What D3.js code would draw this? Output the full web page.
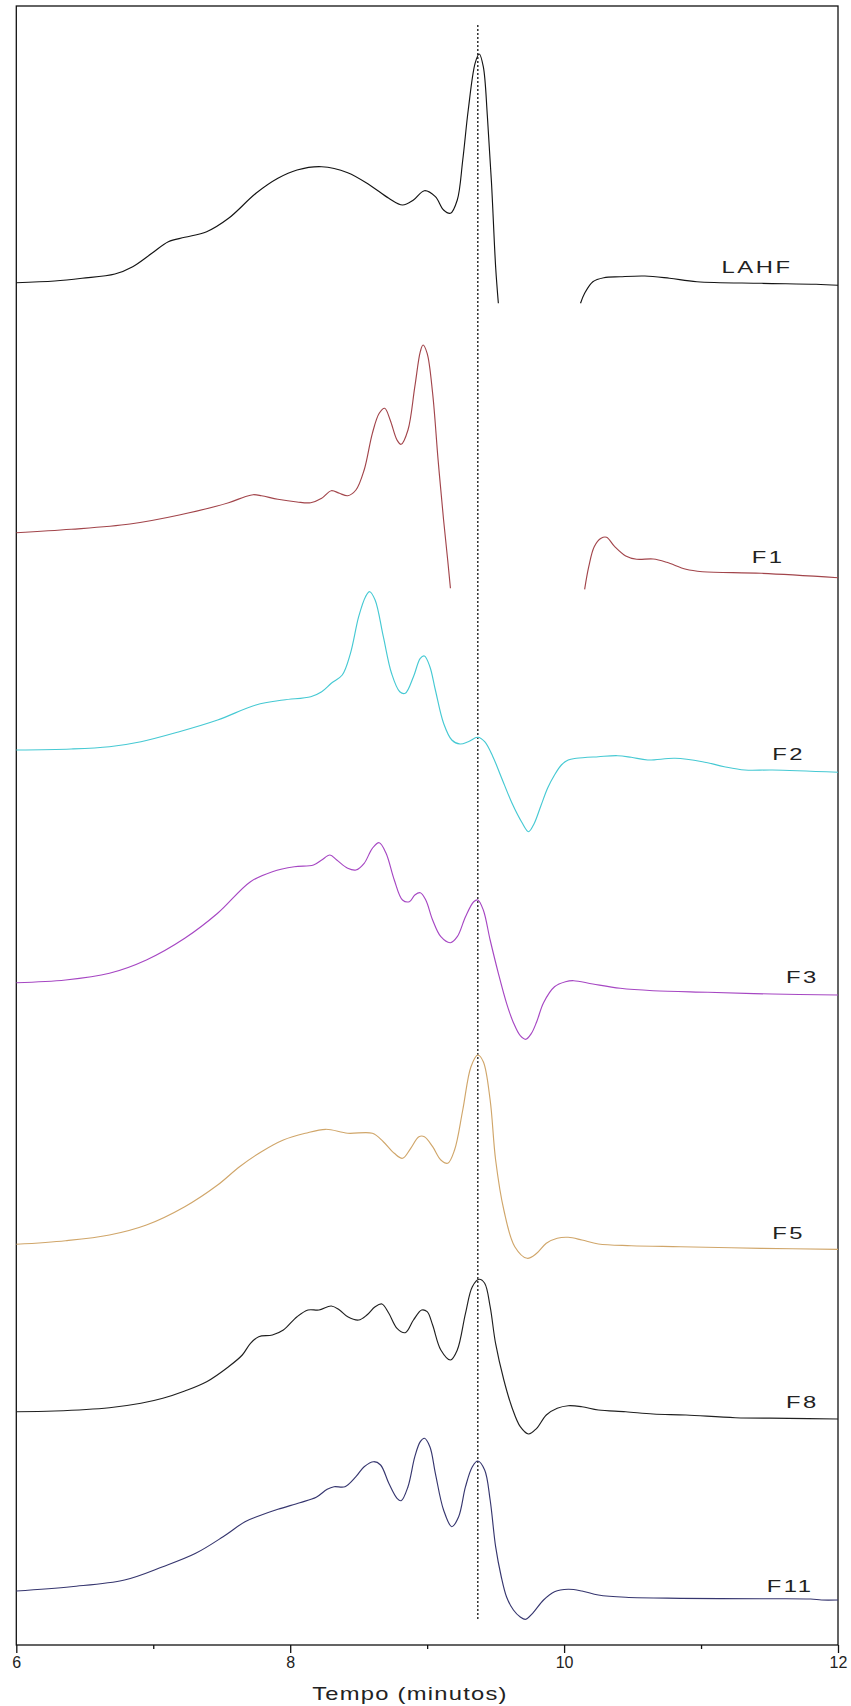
<!DOCTYPE html>
<html>
<head>
<meta charset="utf-8">
<script src="https://cdn.jsdelivr.net/npm/d3@7"></script>
<style>
  html, body { margin: 0; padding: 0; background: #fff; }
  svg { display: block; }
  text { font-family: "Liberation Sans", Arial, sans-serif; fill: #222; }
</style>
</head>
<body>
<svg id="chart" width="851" height="1706"></svg>
<script>
// Chromatogram traces: [time (min), detector response (a.u.) relative to each trace's start]
// null marks a stretch where the recorder trace is interrupted.
const seriesNames = ["LAHF", "F1", "F2", "F3", "F5", "F8", "F11"];
const seriesColors = ["#141414", "#a2454b", "#46c9d3", "#a647c3", "#d0a66a", "#202020", "#36366f"];
const baselineOffsets = [136.23, 111.23, 89.5, 66.23, 40.07, 23.33, 5.4];

const LAHF = [
  [6.00, 0], [6.28, 0.17], [6.48, 0.44], [6.72, 0.87], [6.85, 1.60], [6.99, 2.94],
  [7.11, 4.10], [7.23, 4.54], [7.39, 5.10], [7.55, 6.44], [7.75, 8.94], [7.91, 10.44],
  [8.05, 11.27], [8.23, 11.60], [8.42, 11.00], [8.58, 9.77], [8.72, 8.44], [8.82, 7.77],
  [8.90, 8.27], [8.98, 9.20], [9.06, 8.60], [9.12, 7.27], [9.17, 6.94], [9.22, 8.27],
  [9.26, 12.27], [9.30, 17.27], [9.35, 21.94], [9.38, 22.87], [9.41, 21.60], [9.44, 16.60],
  [9.47, 9.94], [9.50, 1.60], [9.52, -2.06], [9.80, null],
  [10.12, -2.06], [10.15, -1.06], [10.21, 0.10], [10.29, 0.50], [10.41, 0.60], [10.59, 0.67],
  [10.77, 0.44], [10.97, 0.10], [11.44, -0.06], [11.84, -0.16], [12.00, -0.26]
];

const F1 = [
  [6.00, 0], [6.40, 0.34], [6.83, 0.87], [7.19, 1.77], [7.55, 3.00], [7.67, 3.60],
  [7.73, 3.80], [7.79, 3.70], [7.91, 3.34], [8.05, 3.07], [8.15, 3.00], [8.23, 3.44],
  [8.30, 4.20], [8.36, 3.94], [8.42, 3.70], [8.48, 4.27], [8.54, 6.27], [8.60, 9.94],
  [8.65, 11.94], [8.69, 12.44], [8.73, 11.27], [8.78, 9.27], [8.81, 8.84], [8.86, 10.27],
  [8.91, 14.60], [8.95, 18.10], [8.97, 18.77], [9.00, 17.94], [9.04, 13.94], [9.08, 7.27],
  [9.12, 1.27], [9.15, -2.73], [9.17, -5.56], [9.60, null],
  [10.15, -5.66], [10.18, -3.40], [10.22, -1.40], [10.27, -0.56], [10.31, -0.46], [10.37, -1.40],
  [10.45, -2.33], [10.53, -2.66], [10.65, -2.63], [10.75, -2.96], [10.89, -3.66], [11.01, -3.90],
  [11.44, -4.06], [12.00, -4.50]
];

const F2 = [
  [6.00, 0], [6.40, 0.10], [6.68, 0.33], [6.91, 0.83], [7.19, 1.83], [7.47, 3.00],
  [7.75, 4.50], [7.95, 5.00], [8.15, 5.33], [8.23, 5.83], [8.30, 6.67], [8.38, 7.50],
  [8.44, 9.67], [8.50, 13.33], [8.55, 15.33], [8.58, 15.83], [8.62, 15.00], [8.68, 11.33],
  [8.74, 7.67], [8.80, 5.83], [8.84, 5.67], [8.90, 7.33], [8.95, 9.17], [8.98, 9.40],
  [9.02, 8.33], [9.06, 6.00], [9.12, 2.67], [9.18, 1.00], [9.24, 0.60], [9.30, 0.83],
  [9.37, 1.27], [9.42, 0.83], [9.48, -0.67], [9.54, -2.67], [9.62, -5.33], [9.69, -7.20],
  [9.74, -8.17], [9.78, -7.40], [9.83, -5.60], [9.88, -3.80], [9.93, -2.50], [9.98, -1.50],
  [10.03, -1.00], [10.09, -0.83], [10.25, -0.67], [10.39, -0.57], [10.49, -0.73], [10.61, -1.00],
  [10.81, -0.83], [11.01, -1.17], [11.17, -1.67], [11.32, -2.00], [11.52, -2.00], [12.00, -2.23]
];

const F3 = [
  [6.00, 0], [6.36, 0.27], [6.68, 0.94], [6.95, 2.27], [7.23, 4.44], [7.47, 6.94],
  [7.71, 10.10], [7.87, 11.10], [8.03, 11.60], [8.17, 11.77], [8.23, 12.27], [8.29, 12.77],
  [8.34, 12.27], [8.42, 11.44], [8.48, 11.27], [8.54, 11.94], [8.60, 13.44], [8.65, 14.00],
  [8.70, 12.94], [8.76, 10.27], [8.82, 8.27], [8.87, 8.10], [8.91, 8.77], [8.95, 9.00],
  [8.99, 8.27], [9.04, 6.27], [9.10, 4.60], [9.17, 4.00], [9.22, 4.60], [9.28, 6.60],
  [9.34, 8.10], [9.37, 8.27], [9.41, 7.27], [9.46, 4.27], [9.52, 0.94], [9.58, -2.06],
  [9.63, -4.00], [9.68, -5.30], [9.72, -5.66], [9.76, -5.10], [9.80, -3.90], [9.85, -2.00],
  [9.93, -0.40], [10.01, 0.10], [10.07, 0.20], [10.21, -0.13], [10.41, -0.56], [10.65, -0.80],
  [11.05, -0.96], [11.52, -1.13], [12.00, -1.23]
];

const F5 = [
  [6.00, 0], [6.36, 0.36], [6.68, 0.93], [6.95, 1.93], [7.23, 3.76], [7.47, 5.93],
  [7.63, 7.76], [7.79, 9.26], [7.95, 10.43], [8.11, 11.10], [8.26, 11.50], [8.42, 11.10],
  [8.60, 11.10], [8.68, 10.26], [8.76, 9.10], [8.82, 8.60], [8.88, 9.60], [8.94, 10.76],
  [8.98, 10.76], [9.04, 9.76], [9.10, 8.43], [9.15, 8.10], [9.20, 9.43], [9.26, 13.43],
  [9.32, 17.76], [9.37, 18.93], [9.41, 18.26], [9.46, 14.43], [9.50, 8.43], [9.56, 3.43],
  [9.64, -0.24], [9.73, -1.40], [9.80, -0.90], [9.87, 0.10], [9.95, 0.60], [10.03, 0.70],
  [10.13, 0.43], [10.25, 0.03], [10.49, -0.14], [10.85, -0.24], [11.44, -0.40], [12.00, -0.50]
];

const F8 = [
  [6.00, 0], [6.28, 0.07], [6.68, 0.40], [6.91, 0.84], [7.07, 1.34], [7.23, 2.07],
  [7.39, 3.00], [7.55, 4.50], [7.65, 5.67], [7.71, 6.84], [7.77, 7.50], [7.87, 7.67],
  [7.95, 8.17], [8.05, 9.50], [8.13, 10.17], [8.21, 10.17], [8.30, 10.57], [8.36, 10.17],
  [8.42, 9.50], [8.50, 9.17], [8.56, 9.67], [8.62, 10.50], [8.67, 10.77], [8.72, 9.84],
  [8.78, 8.34], [8.84, 7.90], [8.90, 9.17], [8.96, 10.17], [9.00, 10.00], [9.04, 8.67],
  [9.10, 6.17], [9.17, 5.17], [9.22, 6.17], [9.28, 9.84], [9.33, 12.50], [9.38, 13.24],
  [9.42, 12.84], [9.46, 10.50], [9.50, 6.80], [9.56, 3.17], [9.62, 0.40], [9.68, -1.50],
  [9.74, -2.23], [9.80, -1.66], [9.87, -0.33], [9.95, 0.34], [10.03, 0.60], [10.13, 0.50],
  [10.25, 0.17], [10.45, 0], [10.65, -0.23], [10.89, -0.33], [11.25, -0.60], [11.64, -0.66],
  [12.00, -0.73]
];

const F11 = [
  [6.00, 0], [6.40, 0.43], [6.79, 1.10], [7.07, 2.43], [7.31, 3.77], [7.51, 5.43],
  [7.67, 6.93], [7.77, 7.50], [7.91, 8.17], [8.07, 8.83], [8.19, 9.37], [8.27, 10.17],
  [8.32, 10.43], [8.40, 10.43], [8.48, 11.43], [8.54, 12.43], [8.61, 12.93], [8.66, 12.60],
  [8.72, 10.77], [8.78, 9.27], [8.81, 9.03], [8.86, 10.43], [8.91, 13.43], [8.95, 14.93],
  [8.98, 15.27], [9.02, 14.43], [9.06, 11.77], [9.12, 8.10], [9.18, 6.43], [9.23, 7.43],
  [9.28, 10.43], [9.33, 12.43], [9.37, 13.00], [9.42, 12.10], [9.46, 9.10], [9.50, 4.43],
  [9.54, 1.50], [9.58, -0.60], [9.63, -1.90], [9.68, -2.60], [9.72, -2.83], [9.77, -2.23],
  [9.85, -0.90], [9.93, -0.07], [10.03, 0.17], [10.13, 0], [10.25, -0.40], [10.45, -0.63],
  [10.85, -0.73], [11.44, -0.77], [11.80, -0.80], [11.88, -0.90], [12.00, -0.90]
];

const traces = [LAHF, F1, F2, F3, F5, F8, F11];

// Axis ticks
const majorTicks = [6, 8, 10, 12];
const minorTicks = [7, 9, 11];
const axisTitle = "Tempo (minutos)";

// Reference retention time marked with a dotted vertical line
const referenceTime = 9.37;
const referenceSpan = [2.4, 162.0];

// Label placement near the right end of each trace: time and lift above the trace end (px)
const labelPlacement = [
  { t: 11.15, lift: 12 }, { t: 11.37, lift: 15 }, { t: 11.52, lift: 12 },
  { t: 11.62, lift: 12 }, { t: 11.52, lift: 10 }, { t: 11.62, lift: 11 },
  { t: 11.48, lift: 8 }
];

const svg = d3.select("#chart");
const plot = { left: 16.3, right: 838, top: 6, bottom: 1645 };

const x = d3.scaleLinear().domain([6, 12]).range([plot.left, plot.right]);
const y = d3.scaleLinear().domain([0, 163.9]).range([plot.bottom, plot.top]);

// Frame
svg.append("rect")
  .attr("x", plot.left).attr("y", plot.top)
  .attr("width", plot.right - plot.left).attr("height", plot.bottom - plot.top)
  .attr("fill", "none").attr("stroke", "#111").attr("stroke-width", 1.3);

// Dotted reference line
svg.append("line")
  .attr("x1", x(referenceTime)).attr("x2", x(referenceTime))
  .attr("y1", y(referenceSpan[1])).attr("y2", y(referenceSpan[0]))
  .attr("stroke", "#111").attr("stroke-width", 1.3)
  .attr("stroke-dasharray", "2,2");

// Traces
traces.forEach((data, i) => {
  const off = baselineOffsets[i];
  const line = d3.line()
    .defined(d => d[1] !== null)
    .x(d => x(d[0]))
    .y(d => y(off + d[1]))
    .curve(d3.curveCatmullRom.alpha(0.5));
  svg.append("path")
    .datum(data)
    .attr("class", "trace " + seriesNames[i])
    .attr("fill", "none")
    .attr("stroke", seriesColors[i])
    .attr("stroke-width", 1.15)
    .attr("stroke-linejoin", "round")
    .attr("d", line);

  const last = data[data.length - 1];
  const lp = labelPlacement[i];
  svg.append("text")
    .attr("transform", `translate(${x(lp.t)},${y(off + last[1]) - lp.lift}) scale(1.4,1)`)
    .attr("font-size", 17)
    .attr("letter-spacing", "1.8px")
    .text(seriesNames[i]);
});

// X axis: major ticks with labels, minor ticks without
const xAxis = d3.axisBottom(x).tickValues(majorTicks).tickSize(8).tickPadding(4)
  .tickFormat(d3.format("d"));
const gx = svg.append("g").attr("transform", `translate(0,${plot.bottom})`).call(xAxis);
gx.select(".domain").remove();
gx.selectAll(".tick line").attr("stroke", "#111").attr("stroke-width", 1.3);
gx.selectAll(".tick text")
  .attr("font-size", 16)
  .attr("font-family", "Liberation Sans, Arial, sans-serif")
  .attr("fill", "#222");

const xMinor = d3.axisBottom(x).tickValues(minorTicks).tickSize(4).tickFormat("");
const gm = svg.append("g").attr("transform", `translate(0,${plot.bottom})`).call(xMinor);
gm.select(".domain").remove();
gm.selectAll(".tick line").attr("stroke", "#111").attr("stroke-width", 1.3);

// Axis title
svg.append("text")
  .attr("transform", `translate(410,1700) scale(1.25,1)`)
  .attr("text-anchor", "middle")
  .attr("font-size", 19)
  .attr("letter-spacing", "1px")
  .text(axisTitle);
</script>
</body>
</html>
